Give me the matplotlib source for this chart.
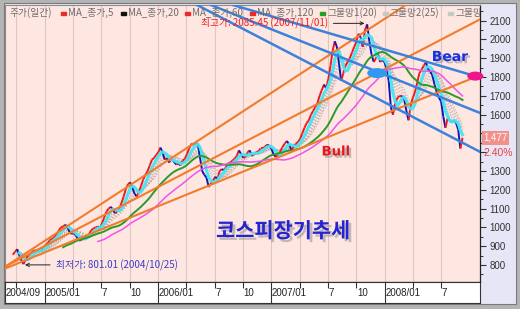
import numpy as np
import pandas as pd
import matplotlib
matplotlib.use('Agg')
import matplotlib.pyplot as plt
from matplotlib.collections import LineCollection
from matplotlib.patches import Ellipse, Rectangle
from matplotlib import patheffects as pe
from matplotlib.transforms import IdentityTransform, blended_transform_factory, offset_copy

KFONT = ['Noto Sans CJK KR', 'DejaVu Sans']
LFONT = ['Liberation Sans', 'DejaVu Sans']
plt.rcParams['font.family'] = KFONT

# ---------------- data ----------------
start_date = '2004-09-20'          # weekly closes (Mondays)
close = [
    855, 870,                               # 2004-09
    885, 850, 825, 805,                     # 2004-10
    830, 850, 860, 870, 880,                # 2004-11
    870, 880, 875, 895,                     # 2004-12
    905, 915, 930, 940, 945,                # 2005-01
    960, 980, 1000, 1005,                   # 2005-02
    1015, 1000, 975, 965,                   # 2005-03
    970, 955, 935, 930,                     # 2005-04
    940, 950, 955, 965, 985,                # 2005-05
    995, 1000, 1005, 1000,                  # 2005-06
    1025, 1055, 1085, 1100,                 # 2005-07
    1110, 1095, 1075, 1085, 1100,           # 2005-08
    1130, 1165, 1205, 1230,                 # 2005-09
    1240, 1210, 1180, 1165, 1190,           # 2005-10
    1220, 1255, 1280, 1300,                 # 2005-11
    1330, 1360, 1370, 1385,                 # 2005-12
    1400, 1425, 1400, 1360, 1370,           # 2006-01
    1345, 1365, 1350, 1335,                 # 2006-02
    1340, 1330, 1355, 1365,                 # 2006-03
    1390, 1420, 1445, 1440,                 # 2006-04
    1450, 1440, 1370, 1300, 1280,           # 2006-05
    1265, 1215, 1235, 1250,                 # 2006-06
    1270, 1255, 1300, 1310, 1305,           # 2006-07
    1320, 1340, 1345, 1355,                 # 2006-08
    1365, 1380, 1410, 1390,                 # 2006-09
    1370, 1375, 1400, 1410, 1380,           # 2006-10
    1390, 1400, 1405, 1420,                 # 2006-11
    1420, 1430, 1440, 1435,                 # 2006-12
    1420, 1390, 1375, 1385, 1400,           # 2007-01
    1425, 1445, 1460, 1440,                 # 2007-02
    1410, 1430, 1445, 1455,                 # 2007-03
    1470, 1500, 1530, 1555, 1570,           # 2007-04
    1600, 1620, 1640, 1660,                 # 2007-05
    1700, 1730, 1760, 1740,                 # 2007-06
    1790, 1860, 1940, 1990, 1960,           # 2007-07
    1870, 1780, 1820, 1860,                 # 2007-08
    1880, 1900, 1930, 1960,                 # 2007-09
    1990, 2030, 2010, 1960, 2050,           # 2007-10
    2080, 1990, 1920, 1880,                 # 2007-11
    1900, 1920, 1880, 1890, 1880,           # 2007-12
    1840, 1780, 1640, 1600,                 # 2008-01
    1660, 1690, 1700, 1700,                 # 2008-02
    1680, 1620, 1570, 1650, 1690,           # 2008-03
    1720, 1770, 1820, 1840,                 # 2008-04
    1860, 1880, 1840, 1830,                 # 2008-05
    1810, 1760, 1720, 1690, 1670,           # 2008-06
    1590, 1530, 1580, 1570,                 # 2008-07
    1560, 1570, 1555, 1520,                 # 2008-08
    1420, 1477,                             # 2008-09
]
last_change_pct = 2.40

peak_date, peak_value = '2007-11-01', 2085.45
low_date, low_value = '2004-10-25', 801.01
peak_label = '최고가: 2085.45 (2007/11/01)'
low_label = '최저가: 801.01 (2004/10/25)'

# trend lines: (start date, start value, end date, end value)
orange_lines = [
    ('2004-08-30', 795, '2008-03-08', 2183),
    ('2004-08-30', 795, '2008-11-05', 2108),
    ('2004-08-30', 784, '2008-11-05', 1811),
]
blue_lines = [
    ('2006-08-30', 2183, '2008-10-19', 1805),
    ('2006-06-19', 2183, '2008-11-05', 1608),
    ('2006-05-05', 2183, '2008-11-05', 1401),
]
blue_marker = ('2007-12-07', 1821)
pink_marker = ('2008-10-19', 1805)

tick_dates = ['2004-10-01', '2005-01-01', '2005-04-01', '2005-07-01', '2005-10-01',
              '2006-01-01', '2006-04-01', '2006-07-01', '2006-10-01',
              '2007-01-01', '2007-04-01', '2007-07-01', '2007-10-01',
              '2008-01-01', '2008-04-01', '2008-07-01']
tick_labels = ['2004/09', '2005/01', '', '7', '10', '2006/01', '', '7', '10',
               '2007/01', '', '7', '10', '2008/01', '', '7']
year_starts = ['2005-01-01', '2006-01-01', '2007-01-01', '2008-01-01']

ytick_values = list(range(800, 2101, 100))
hidden_yticks = [1400, 1500]   # covered by the last-price box and change text

legend_items = ['주가(일간)', 'MA_종가,5', 'MA_종가,20', 'MA_종가,60', 'MA_종가,120',
                '그물망1(20)', '그물망2(25)', '그물망']
legend_marks = [None, '#F02828', '#111111', '#F02828', '#F02828', '#22A022', '#C8C8C8', '#C8C8C8']

x_range = ('2004-08-26', '2008-11-05')
y_range = (710, 2183)

# ---------------- helpers ----------------
def to_t(d):
    d = pd.to_datetime(d)
    return (d.year - 2004) * 12 + (d.month - 1) + (d.day - 1) / d.days_in_month

dates = pd.date_range(start_date, periods=len(close), freq='7D')
t = np.asarray(to_t(dates), dtype=float)
s = pd.Series(close, dtype=float)

W, H = 520, 309
fig = plt.figure(figsize=(W / 100, H / 100), dpi=100)
fig.patch.set_facecolor('#B4B4B4')

def fr(x0, y0top, x1, y1top):
    return [x0 / W, (H - y1top) / H, (x1 - x0) / W, (y1top - y0top) / H]

# inner panels
fig.add_artist(Rectangle((4 / W, 5 / H), 512 / W, 301 / H, transform=fig.transFigure,
                         fc='#E6E6F6', ec='#7A7A7A', lw=0.8, zorder=-2))

ax = fig.add_axes(fr(5, 5, 480.5, 282))
axb = fig.add_axes(fr(5, 282, 480.5, 303))

ax.set_facecolor('#FEE6E1')
xl = (to_t(x_range[0]), to_t(x_range[1]))
ax.set_xlim(*xl)
ax.set_ylim(*y_range)

# gridlines
tt = [to_t(d) for d in tick_dates]
ax.set_xticks(tt)
ax.grid(axis='x', color='#E2C4C0', lw=0.8, zorder=0)
ax.tick_params(axis='x', bottom=False, labelbottom=False)

# MA nets (gray)
for w in range(5, 12):
    ax.plot(t, s.rolling(w).mean(), color='#A9A2A2', lw=0.8, ls=':', alpha=0.75, zorder=1)

# price segments
pts = np.column_stack([t, s.values])
segs = np.stack([pts[:-1], pts[1:]], axis=1)
cols = ['#F01818' if b >= a else '#1414B4' for a, b in zip(s.values[:-1], s.values[1:])]
ax.add_collection(LineCollection(segs, colors=cols, linewidths=1.4, zorder=2))

# moving averages
ax.plot(t, s.rolling(4).mean(), color='#44E4F2', lw=2.2, zorder=2.2, alpha=0.95)
ax.plot(t, s.rolling(24).mean(), color='#2A9A2A', lw=1.4, zorder=2.3)
ax.plot(t, s.rolling(40).mean(), color='#EE55E8', lw=1.1, zorder=2.3)

# trend lines
for d0, v0, d1, v1 in orange_lines:
    ax.plot([to_t(d0), to_t(d1)], [v0, v1], color='#F27B2C', lw=1.5, zorder=3)
for d0, v0, d1, v1 in blue_lines:
    ax.plot([to_t(d0), to_t(d1)], [v0, v1], color='#3C82DC', lw=1.8, zorder=3)

# markers
ax.add_patch(Ellipse((to_t(blue_marker[0]), blue_marker[1]), 2.1, 53,
                     fc='#3399EE', ec='none', zorder=4))
ax.add_patch(Ellipse((to_t(pink_marker[0]), pink_marker[1]), 1.7, 48,
                     fc='#F0148C', ec='none', zorder=6, clip_on=False))

# annotations
ax.annotate(peak_label, xy=(to_t(peak_date), peak_value), xytext=(-38, 0),
            textcoords='offset pixels', ha='right', va='center', fontsize=7,
            color='#F02020', family=KFONT, zorder=5,
            arrowprops=dict(arrowstyle='->', color='#222222', lw=0.7,
                            shrinkA=2, shrinkB=1, mutation_scale=6))
ax.annotate(low_label, xy=(to_t(low_date), low_value), xytext=(32, 0),
            textcoords='offset pixels', ha='left', va='center', fontsize=7,
            color='#3C3CC8', family=KFONT, zorder=5,
            arrowprops=dict(arrowstyle='->', color='#222222', lw=0.7,
                            shrinkA=2, shrinkB=1, mutation_scale=6))

shadow = [pe.withSimplePatchShadow(offset=(1.6, -1.6), shadow_rgbFace='#8A8A8A', alpha=0.55)]
ax.text((336 - 5) / 475.5, (282 - 152) / 277, 'Bull', transform=ax.transAxes,
        ha='center', va='center', fontsize=9.5, fontweight='bold', color='#E8141E',
        family=['DejaVu Sans'], path_effects=shadow, zorder=5)
ax.text((450 - 5) / 475.5, (282 - 57) / 277, 'Bear', transform=ax.transAxes,
        ha='center', va='center', fontsize=10, fontweight='bold', color='#1430E6',
        family=['DejaVu Sans'], path_effects=shadow, zorder=5)
ax.text((283 - 5) / 475.5, (282 - 231) / 277, '코스피장기추세', transform=ax.transAxes,
        ha='center', va='center', fontsize=15, fontweight='bold', color='#2424D2',
        family=KFONT,
        path_effects=[pe.withSimplePatchShadow(offset=(2, -2), shadow_rgbFace='#8A8A8A', alpha=0.5)],
        zorder=5)

# legend row (positions follow the reference layout)
legend_x = [10, 68, 128, 192, 257, 327, 390, 455]
ly = H - 13.0
for txt, x0, mc in zip(legend_items, legend_x, legend_marks):
    ax.text(x0, ly, txt, transform=IdentityTransform(), fontsize=7, color='#6E6E6E',
            ha='left', va='center', family=KFONT, clip_on=True, zorder=4.5)
    if mc is not None:
        r = Rectangle((x0 - 7, ly - 1.5), 5, 3, transform=IdentityTransform(),
                      color=mc, zorder=4.5)
        r.set_clip_on(False)
        fig.add_artist(r)

# right axis
ax.yaxis.tick_right()
ax.set_yticks(ytick_values, ['' if v in hidden_yticks else str(v) for v in ytick_values],
              family=LFONT)
ax.set_yticks(np.arange(750, 2151, 50), minor=True)
ax.tick_params(axis='y', which='major', direction='out', length=4, width=0.8,
               colors='#333333', labelsize=7, pad=2.5)
ax.tick_params(axis='y', which='minor', direction='out', length=2, width=0.7, colors='#333333')
for side in ['left', 'top']:
    ax.spines[side].set_color('#8C8C8C')
    ax.spines[side].set_linewidth(0.8)
for side in ['right', 'bottom']:
    ax.spines[side].set_color('#222222')
    ax.spines[side].set_linewidth(0.9)

btrans = blended_transform_factory(ax.transAxes, ax.transData)
last = int(close[-1])
ax.text(1.0, last, f'{last:,}', transform=offset_copy(btrans, fig=fig, x=3, y=0, units='dots'),
        ha='left', va='center', fontsize=7, color='white', family=LFONT, clip_on=False,
        zorder=7, bbox=dict(boxstyle='square,pad=0.18', fc='#F3908A', ec='none'))
ax.text(1.0, last, f'{last_change_pct:.2f}%',
        transform=offset_copy(btrans, fig=fig, x=3, y=-15, units='dots'),
        ha='left', va='center', fontsize=7.5, color='#E8404C', family=LFONT,
        clip_on=False, zorder=7)

# bottom date band
axb.set_facecolor('white')
axb.set_xlim(*xl)
axb.set_ylim(0, 1)
axb.set_xticks([])
axb.set_yticks([])
for sp in axb.spines.values():
    sp.set_color('#333333')
    sp.set_linewidth(0.8)
ys = [to_t(d) for d in year_starts]
for x in tt:
    if any(abs(x - y) < 1e-9 for y in ys):
        axb.vlines(x, 0, 1, color='#333333', lw=0.8)
    else:
        axb.vlines(x, 0.72, 1, color='#333333', lw=0.8)
ltrans = offset_copy(axb.transData, fig=fig, x=0.5, y=0, units='dots')
for i, (x, lab) in enumerate(zip(tt, tick_labels)):
    if not lab:
        continue
    xpos = xl[0] if i == 0 else x
    axb.text(xpos, 0.47, lab, transform=ltrans, ha='left', va='center', fontsize=7,
             color='#222222', family=LFONT)

fig.savefig('out.png', dpi=100, facecolor=fig.get_facecolor())
